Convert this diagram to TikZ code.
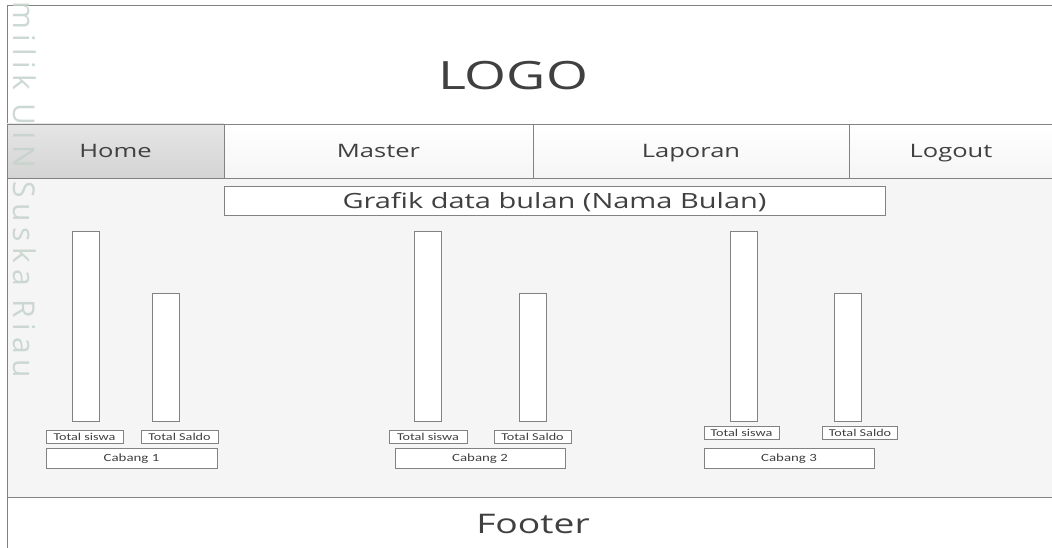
\documentclass[tikz,border=0pt]{standalone}
\usepackage{fontspec}
\setmainfont{Open Sans}
\newfontfamily\widefont[FakeStretch=1.38]{Open Sans}
\newfontfamily\labelfont[FakeStretch=1.35]{Carlito}
\newfontfamily\markfont[LetterSpace=19]{Open Sans}
\usepackage{tikz}
\usetikzlibrary{positioning}
\definecolor{boxline}{RGB}{130,130,130}
\definecolor{boxtext}{RGB}{64,64,64}
\definecolor{pagefill}{RGB}{245,245,245}
\definecolor{homefill}{RGB}{212,212,212}
\definecolor{markcol}{RGB}{196,210,203}

\begin{document}
\begin{tikzpicture}[
  x=1pt, y=-1pt,
  menubox/.style={draw=boxline, line width=0.8pt, top color=white,
                  bottom color=pagefill, text=boxtext, inner sep=0pt,
                  minimum height=54, text height=13pt, text depth=0pt,
                  font=\widefont\fontsize{18.5}{22}\selectfont},
  homebox/.style={menubox, top color=homefill!60!white, bottom color=homefill},
  titlebox/.style={draw=boxline, line width=0.8pt, fill=white, text=boxtext,
                   inner sep=0pt, minimum height=29, text height=15pt,
                   text depth=0pt, font=\widefont\fontsize{21}{24}\selectfont},
  barbox/.style={draw=boxline, line width=0.8pt, fill=white, inner sep=0pt,
                 minimum width=27},
  tagbox/.style={draw=boxline, line width=0.6pt, fill=white, text=boxtext,
                 inner sep=0pt, minimum height=13, text height=7pt,
                 text depth=0pt, font=\labelfont\fontsize{10.5}{11}\selectfont},
  branchbox/.style={draw=boxline, line width=0.6pt, fill=white, text=boxtext,
                    inner sep=0pt, minimum height=20, minimum width=170,
                    text height=7.5pt, text depth=0pt,
                    font=\labelfont\fontsize{11}{12}\selectfont},
]
\useasboundingbox (0,0) rectangle (1052,548);

% =================================================================
% PAGE FRAME
% =================================================================
\fill[white] (7,5) rectangle (1053,549);
\fill[pagefill] (7,179) rectangle (1053,497.5);
\draw[boxline, line width=0.8pt] (1053,5) -- (7,5) -- (7,549);
\draw[boxline, line width=0.8pt] (7,497.5) -- (1053,497.5);

% =================================================================
% HEADER
% =================================================================
\node[text=boxtext, anchor=base, font=\widefont\fontsize{39}{44}\selectfont]
  (logo) at (513,90) {LOGO};

\node[homebox, minimum width=217] (home)    at (115.5,151) {Home};
\node[menubox, minimum width=309] (master)  at (378.5,151) {Master};
\node[menubox, minimum width=316] (laporan) at (691,151)   {Laporan};
\node[menubox, minimum width=204] (logout)  at (951,151)   {Logout};

\node[titlebox, minimum width=661] (grafik) at (554.5,200.5)
  {Grafik data bulan (Nama Bulan)};

% =================================================================
% CABANG 1
% =================================================================
\node[barbox, minimum height=190] (siswa1) at (85.5,326)  {};
\node[barbox, minimum height=128] (saldo1) at (165.5,357) {};
\node[tagbox, minimum width=77] (tsiswa1) at (84.5,437)  {Total siswa};
\node[tagbox, minimum width=77] (tsaldo1) at (179.5,437) {Total Saldo};
\node[branchbox, minimum width=171] (cabang1) at (131.5,458) {Cabang 1};

% =================================================================
% CABANG 2
% =================================================================
\node[barbox, minimum height=190] (siswa2) at (428,326)   {};
\node[barbox, minimum height=128] (saldo2) at (532.5,357) {};
\node[tagbox, minimum width=78] (tsiswa2) at (428,437)   {Total siswa};
\node[tagbox, minimum width=77] (tsaldo2) at (532.5,437) {Total Saldo};
\node[branchbox] (cabang2) at (480,458) {Cabang 2};

% =================================================================
% CABANG 3
% =================================================================
\node[barbox, minimum height=190] (siswa3) at (743.5,326) {};
\node[barbox, minimum height=128] (saldo3) at (848,357)   {};
\node[tagbox, minimum width=75] (tsiswa3) at (741.5,433) {Total siswa};
\node[tagbox, minimum width=75] (tsaldo3) at (860,433)   {Total Saldo};
\node[branchbox] (cabang3) at (789,458) {Cabang 3};

% =================================================================
% FOOTER
% =================================================================
\node[text=boxtext, anchor=base, font=\widefont\fontsize{27}{30}\selectfont]
  (footer) at (533,533) {Footer};

% watermark strip on the left
\node[text=markcol, opacity=0.85, rotate=-90, anchor=base west, inner sep=0pt,
      font=\markfont\fontsize{30}{30}\selectfont] (mark) at (13,1) {milik UIN Suska Riau};

\end{tikzpicture}
\end{document}
